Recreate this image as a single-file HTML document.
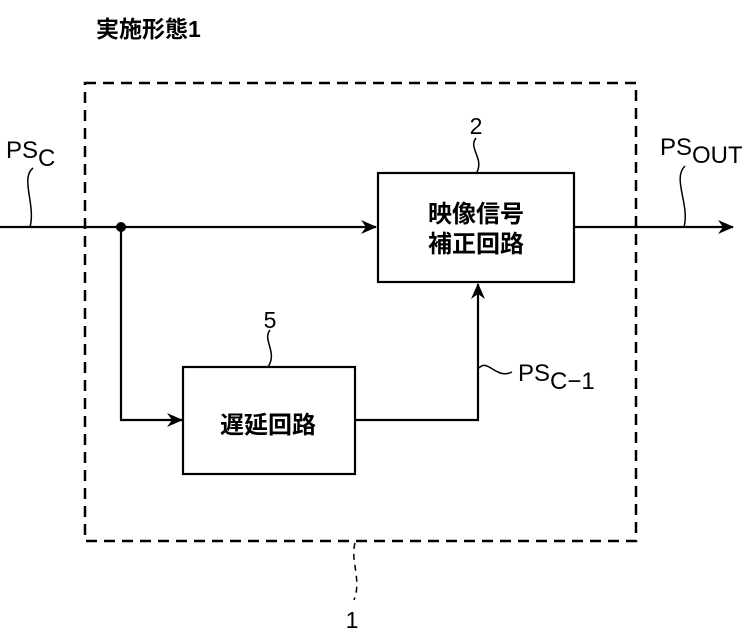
<!DOCTYPE html>
<html><head><meta charset="utf-8"><style>
html,body{margin:0;padding:0;background:#fff;width:753px;height:637px;overflow:hidden}
text{font-family:"Liberation Sans","Noto Sans CJK JP",sans-serif;fill:#000}
</style></head><body>
<svg width="753" height="637" viewBox="0 0 753 637" xmlns="http://www.w3.org/2000/svg">
<defs><marker id="a" markerWidth="16" markerHeight="14" refX="15" refY="7" orient="auto" markerUnits="userSpaceOnUse"><path d="M0,0 L16,7 L0,14 L5,7 Z" fill="#000"/></marker></defs>
<text x="96" y="37" font-size="23" font-weight="bold">実施形態1</text>
<rect x="85" y="83" width="551" height="458" fill="none" stroke="#000" stroke-width="2.5" stroke-dasharray="11,7"/>
<g stroke="#000" stroke-width="2.2" fill="none">
<line x1="0" y1="227" x2="376" y2="227" marker-end="url(#a)"/>
<line x1="574" y1="227" x2="733" y2="227" marker-end="url(#a)"/>
<polyline points="121,227 121,420 182,420" marker-end="url(#a)"/>
<polyline points="355,420 478,420 478,284" marker-end="url(#a)"/>
<rect x="378" y="173" width="196" height="109"/>
<rect x="183" y="367" width="172" height="107"/>
<path d="M476,138 C468,148 484,158 477,172" stroke-width="1.5"/>
<path d="M270,330 C262,340 278,352 268,367" stroke-width="1.5"/>
<path d="M33,168 C20,178 36,205 30,227" stroke-width="1.5"/>
<path d="M685,166 C672,178 690,205 684,227" stroke-width="1.5"/>
<path d="M479,368 C488,358 496,380 512,372" stroke-width="1.5"/>
<path d="M355,543 C350,560 362,580 354,600" stroke-width="1.5" stroke-dasharray="6,5"/>
</g>
<circle cx="121" cy="227" r="5" fill="#000"/>
<text x="476" y="222" font-size="24" font-weight="bold" text-anchor="middle">映像信号</text>
<text x="476" y="252" font-size="24" font-weight="bold" text-anchor="middle">補正回路</text>
<text x="268" y="433" font-size="24" font-weight="bold" text-anchor="middle">遅延回路</text>
<text x="476" y="134" font-size="23" text-anchor="middle">2</text>
<text x="270" y="328" font-size="23" text-anchor="middle">5</text>
<text x="352" y="628" font-size="23" text-anchor="middle">1</text>
<text x="6" y="158" font-size="24">PS<tspan dy="8">C</tspan></text>
<text x="660" y="155" font-size="24">PS<tspan dy="8">OUT</tspan></text>
<text x="518" y="381" font-size="24">PS<tspan dy="8">C−1</tspan></text>
</svg>
</body></html>
